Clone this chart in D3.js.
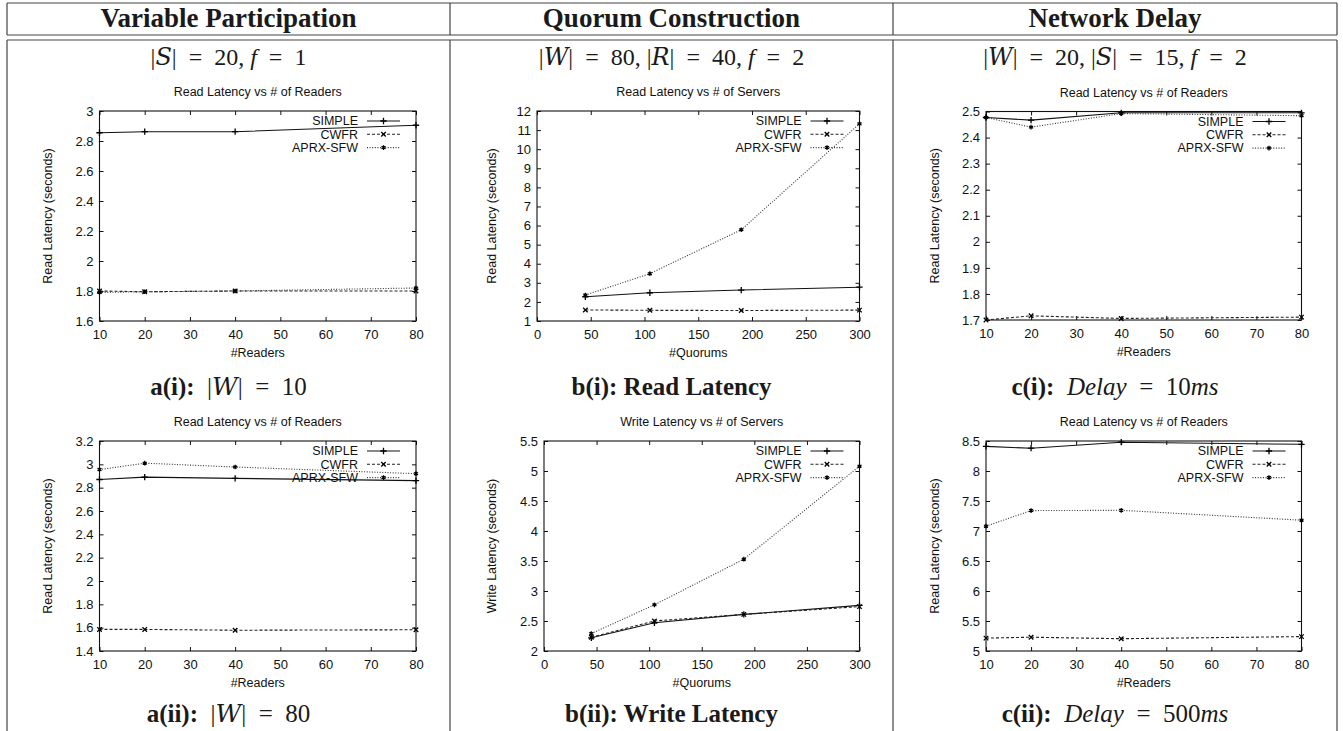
<!DOCTYPE html>
<html>
<head>
<meta charset="utf-8">
<script src="https://cdn.jsdelivr.net/npm/d3@7"></script>
<style>
  body { margin: 0; background: #fff; }
  svg { display: block; }
  .tick text { font-family: "Liberation Sans", Arial, sans-serif; font-size: 13px; fill: #111; }
  .tick line { stroke: #111; }
</style>
</head>
<body>
<svg id="chart"></svg>
<script>
// ---- data ----
const seriesNames = ["SIMPLE", "CWFR", "APRX-SFW"];
const columnTitles = ["Variable Participation", "Quorum Construction", "Network Delay"];

const readerCounts = [10, 20, 40, 80];
const quorumCounts = [45, 105, 190, 300];

const readerTicks = [10, 20, 30, 40, 50, 60, 70, 80];
const quorumTicks = [0, 50, 100, 150, 200, 250, 300];

// a(i): |W| = 10
const a1Simple = [2.855, 2.862, 2.862, 2.905];
const a1Cwfr = [1.80, 1.795, 1.80, 1.80];
const a1Aprx = [1.79, 1.795, 1.80, 1.82];
const a1Ticks = [1.6, 1.8, 2, 2.2, 2.4, 2.6, 2.8, 3];

// a(ii): |W| = 80
const a2Simple = [2.87, 2.89, 2.88, 2.86];
const a2Cwfr = [1.585, 1.585, 1.578, 1.582];
const a2Aprx = [2.955, 3.01, 2.977, 2.92];
const a2Ticks = [1.4, 1.6, 1.8, 2, 2.2, 2.4, 2.6, 2.8, 3, 3.2];

// b(i): read latency vs quorums
const b1Simple = [2.27, 2.48, 2.62, 2.77];
const b1Cwfr = [1.58, 1.56, 1.55, 1.57];
const b1Aprx = [2.36, 3.48, 5.78, 11.33];
const b1Ticks = [1, 2, 3, 4, 5, 6, 7, 8, 9, 10, 11, 12];

// b(ii): write latency vs quorums
const b2Simple = [2.22, 2.47, 2.61, 2.76];
const b2Cwfr = [2.23, 2.50, 2.61, 2.74];
const b2Aprx = [2.29, 2.77, 3.53, 5.08];
const b2Ticks = [2, 2.5, 3, 3.5, 4, 4.5, 5, 5.5];

// c(i): delay 10ms
const c1Simple = [2.477, 2.467, 2.495, 2.495];
const c1Cwfr = [1.70, 1.716, 1.706, 1.711];
const c1Aprx = [2.477, 2.44, 2.492, 2.484];
const c1Ticks = [1.7, 1.8, 1.9, 2, 2.1, 2.2, 2.3, 2.4, 2.5];

// c(ii): delay 500ms
const c2Simple = [8.41, 8.38, 8.48, 8.445];
const c2Cwfr = [5.215, 5.23, 5.205, 5.24];
const c2Aprx = [7.08, 7.34, 7.345, 7.18];
const c2Ticks = [5, 5.5, 6, 6.5, 7, 7.5, 8, 8.5];

// ---- layout ----
const width = 1343;
const height = 731;
const colEdges = [7, 450, 893, 1337];
const headerTop = 3, headerBottom = 35, bodyTop = 40;

const serif = '"Liberation Serif", "Times New Roman", serif';
const sans = '"Liberation Sans", Arial, sans-serif';

const svg = d3.select("#chart")
  .attr("width", width)
  .attr("height", height)
  .attr("viewBox", [0, 0, width, height]);

// table rules
const rules = svg.append("g").attr("stroke", "#444").attr("stroke-width", 1.2);
[headerTop, headerBottom, bodyTop].forEach((y) => {
  rules.append("line").attr("x1", colEdges[0]).attr("x2", colEdges[3]).attr("y1", y).attr("y2", y);
});
colEdges.forEach((x) => {
  rules.append("line").attr("x1", x).attr("x2", x).attr("y1", headerTop).attr("y2", headerBottom);
  rules.append("line").attr("x1", x).attr("x2", x).attr("y1", bodyTop).attr("y2", height + 2);
});

const colCenter = (i) => (colEdges[i] + colEdges[i + 1]) / 2;

columnTitles.forEach((t, i) => {
  svg.append("text")
    .attr("x", colCenter(i)).attr("y", 27)
    .attr("text-anchor", "middle")
    .style("font-family", serif).style("font-weight", "bold").style("font-size", "27px")
    .attr("fill", "#1a1a1a")
    .text(t);
});

// rich text: segments of [text, style]  (n = upright, i = italic, b = bold, s = script)
function richText(x, y, size, segs) {
  const t = svg.append("text")
    .attr("x", x).attr("y", y)
    .attr("text-anchor", "middle")
    .style("font-family", serif).style("font-size", size + "px")
    .attr("fill", "#1a1a1a");
  segs.forEach(([s, st]) => {
    const ts = t.append("tspan").text(s);
    if (st === "i") ts.style("font-style", "italic");
    if (st === "b") ts.style("font-weight", "bold");
    if (st === "s") ts.style("font-family", '"DejaVu Serif", serif').style("font-style", "italic");
  });
}

const EQ = "\u2002=\u2002";
const subHeads = [
  [["|", "n"], ["S", "s"], ["|" + EQ + "20, ", "n"], ["f", "i"], [EQ + "1", "n"]],
  [["|", "n"], ["W", "s"], ["|" + EQ + "80, |", "n"], ["R", "s"], ["|" + EQ + "40, ", "n"], ["f", "i"], [EQ + "2", "n"]],
  [["|", "n"], ["W", "s"], ["|" + EQ + "20, |", "n"], ["S", "s"], ["|" + EQ + "15, ", "n"], ["f", "i"], [EQ + "2", "n"]],
];
subHeads.forEach((segs, i) => richText(colCenter(i), 65, 24, segs));

const captions = [
  [[["a(i):\u2002", "b"], ["|", "n"], ["W", "s"], ["|" + EQ + "10", "n"]],
   [["a(ii):\u2002", "b"], ["|", "n"], ["W", "s"], ["|" + EQ + "80", "n"]]],
  [[["b(i): Read Latency", "b"]],
   [["b(ii): Write Latency", "b"]]],
  [[["c(i):\u2002", "b"], ["Delay", "i"], [EQ + "10", "n"], ["ms", "i"]],
   [["c(ii):\u2002", "b"], ["Delay", "i"], [EQ + "500", "n"], ["ms", "i"]]],
];
captions.forEach((pair, i) => {
  richText(colCenter(i), 395, 25, pair[0]);
  richText(colCenter(i), 722, 25, pair[1]);
});

// ---- panels ----
const panels = [
  { title: "Read Latency vs # of Readers", xLabel: "#Readers", yLabel: "Read Latency (seconds)",
    xs: readerCounts, xDomain: [10, 80], xTicks: readerTicks, yDomain: [1.6, 3], yTicks: a1Ticks,
    series: [a1Simple, a1Cwfr, a1Aprx], box: [99.5, 416, 111, 321], yLabelX: 48 },
  { title: "Read Latency vs # of Readers", xLabel: "#Readers", yLabel: "Read Latency (seconds)",
    xs: readerCounts, xDomain: [10, 80], xTicks: readerTicks, yDomain: [1.4, 3.2], yTicks: a2Ticks,
    series: [a2Simple, a2Cwfr, a2Aprx], box: [99.5, 416, 441, 651], yLabelX: 48 },
  { title: "Read Latency vs # of Servers", xLabel: "#Quorums", yLabel: "Read Latency (seconds)",
    xs: quorumCounts, xDomain: [0, 300], xTicks: quorumTicks, yDomain: [1, 12], yTicks: b1Ticks,
    series: [b1Simple, b1Cwfr, b1Aprx], box: [537, 859.5, 111, 321], yLabelX: 492 },
  { title: "Write Latency vs # of Servers", xLabel: "#Quorums", yLabel: "Write Latency (seconds)",
    xs: quorumCounts, xDomain: [0, 300], xTicks: quorumTicks, yDomain: [2, 5.5], yTicks: b2Ticks,
    series: [b2Simple, b2Cwfr, b2Aprx], box: [544, 859.5, 441, 651], yLabelX: 492 },
  { title: "Read Latency vs # of Readers", xLabel: "#Readers", yLabel: "Read Latency (seconds)",
    xs: readerCounts, xDomain: [10, 80], xTicks: readerTicks, yDomain: [1.7, 2.5], yTicks: c1Ticks,
    series: [c1Simple, c1Cwfr, c1Aprx], box: [986, 1301.5, 111.5, 320], yLabelX: 935 },
  { title: "Read Latency vs # of Readers", xLabel: "#Readers", yLabel: "Read Latency (seconds)",
    xs: readerCounts, xDomain: [10, 80], xTicks: readerTicks, yDomain: [5, 8.5], yTicks: c2Ticks,
    series: [c2Simple, c2Cwfr, c2Aprx], box: [986, 1301.5, 441, 651], yLabelX: 935 },
];

const styles = [
  { dash: null, symbol: d3.symbolPlus, color: "#111" },
  { dash: "3,2", symbol: d3.symbolTimes, color: "#222" },
  { dash: "1,1.6", symbol: d3.symbolAsterisk, color: "#333" },
];

const fmt = d3.format("~g");
const markerSize = 15;

panels.forEach((p) => {
  const [left, right, top, bottom] = p.box;
  const x = d3.scaleLinear().domain(p.xDomain).range([left, right]);
  const y = d3.scaleLinear().domain(p.yDomain).range([bottom, top]);
  const g = svg.append("g");

  g.append("g").attr("transform", `translate(0,${bottom})`)
    .call(d3.axisBottom(x).tickValues(p.xTicks).tickSize(-4).tickPadding(9).tickFormat(fmt))
    .call((a) => a.select(".domain").remove());
  g.append("g").attr("transform", `translate(0,${top})`)
    .call(d3.axisTop(x).tickValues(p.xTicks).tickSize(-4).tickFormat(""))
    .call((a) => a.select(".domain").remove());
  g.append("g").attr("transform", `translate(${left},0)`)
    .call(d3.axisLeft(y).tickValues(p.yTicks).tickSize(-4).tickPadding(6).tickFormat(fmt))
    .call((a) => a.select(".domain").remove());
  g.append("g").attr("transform", `translate(${right},0)`)
    .call(d3.axisRight(y).tickValues(p.yTicks).tickSize(-4).tickFormat(""))
    .call((a) => a.select(".domain").remove());

  g.append("rect")
    .attr("x", left).attr("y", top)
    .attr("width", right - left).attr("height", bottom - top)
    .attr("fill", "none").attr("stroke", "#111").attr("stroke-width", 1.1);

  g.append("text")
    .attr("x", (left + right) / 2).attr("y", top - 15)
    .attr("text-anchor", "middle")
    .style("font-family", sans).style("font-size", "12.5px").attr("fill", "#111")
    .text(p.title);
  g.append("text")
    .attr("x", (left + right) / 2).attr("y", bottom + 36)
    .attr("text-anchor", "middle")
    .style("font-family", sans).style("font-size", "12.5px").attr("fill", "#111")
    .text(p.xLabel);
  g.append("text")
    .attr("transform", `translate(${p.yLabelX},${(top + bottom) / 2}) rotate(-90)`)
    .attr("text-anchor", "middle").attr("dy", "0.35em")
    .style("font-family", sans).style("font-size", "12.5px").attr("fill", "#111")
    .text(p.yLabel);

  const line = d3.line().x((d) => x(d[0])).y((d) => y(d[1]));

  p.series.forEach((vals, si) => {
    const st = styles[si];
    const pts = p.xs.map((xv, k) => [xv, vals[k]]);
    g.append("path")
      .attr("d", line(pts))
      .attr("fill", "none").attr("stroke", st.color).attr("stroke-width", 1.1)
      .attr("stroke-dasharray", st.dash);
    g.selectAll(null).data(pts).join("path")
      .attr("transform", (d) => `translate(${x(d[0])},${y(d[1])})`)
      .attr("d", d3.symbol().type(st.symbol).size(markerSize))
      .attr("fill", "none").attr("stroke", "#000").attr("stroke-width", 1.3);

    // legend entry
    const ly = top + 10 + si * 13.3;
    g.append("text")
      .attr("x", right - 58).attr("y", ly).attr("dy", "0.35em")
      .attr("text-anchor", "end")
      .style("font-family", sans).style("font-size", "12.5px").attr("fill", "#111")
      .text(seriesNames[si]);
    g.append("line")
      .attr("x1", right - 49).attr("x2", right - 16).attr("y1", ly).attr("y2", ly)
      .attr("stroke", st.color).attr("stroke-width", 1.1).attr("stroke-dasharray", st.dash);
    g.append("path")
      .attr("transform", `translate(${right - 32.5},${ly})`)
      .attr("d", d3.symbol().type(st.symbol).size(markerSize))
      .attr("fill", "none").attr("stroke", "#000").attr("stroke-width", 1.3);
  });
});
</script>
</body>
</html>
